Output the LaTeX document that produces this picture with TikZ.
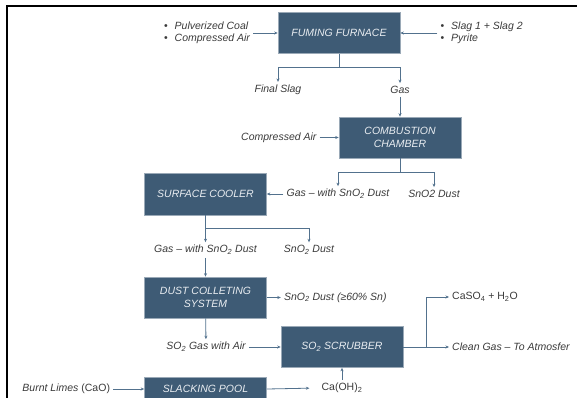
\documentclass[tikz,border=0pt]{standalone}
\usepackage{fontspec}
\setmainfont{Liberation Sans}
\usetikzlibrary{positioning,arrows.meta}
\definecolor{fumbox}{HTML}{3E5B75}
\definecolor{fumedge}{HTML}{9AA9B7}
\definecolor{fumline}{HTML}{52718D}
\definecolor{fumtext}{HTML}{3A3A3A}
\definecolor{fumcap}{HTML}{E9EDF1}
\newcommand{\fumbullet}{{\upshape\textbullet}\hspace{7pt}}

\begin{document}
\begin{tikzpicture}[x=1pt, y=-1pt,
  font=\fontsize{10.5}{12}\selectfont\itshape,
  unitbox/.style = {draw=fumedge, line width=0.6pt, fill=fumbox, text=fumcap, align=center,
                    minimum width=122pt, minimum height=41pt, inner sep=2pt,
                    font=\fontsize{10.5}{13}\selectfont\itshape},
  lbl/.style = {text=fumtext, inner sep=3pt, align=left},
  flow/.style = {-{Stealth[length=3.5pt, width=3pt]}, line width=0.8pt, draw=fumline},
  frame/.style = {line width=2.5pt, draw=black},
]
\useasboundingbox (0,0) rectangle (577,398);
\draw[frame] (577,6) -- (7,6) -- (7,398);

% ---------- fuming furnace ----------
\node[unitbox] (fum) at (339,33) {FUMING FURNACE};
\node[lbl, left=24.5pt of fum] (fumin) {\fumbullet Pulverized Coal\\ \fumbullet Compressed Air};
\node[lbl, right=37pt of fum] (fumout) {\fumbullet Slag 1 + Slag 2\\ \fumbullet Pyrite};
\node[lbl] (slag) at (278,90) {Final Slag};
\node[lbl] (gas1) at (400,90) {Gas};

% ---------- combustion chamber ----------
\node[unitbox] (comb) at (400,137.5) {COMBUSTION\\ CHAMBER};
\node[lbl, left=19pt of comb] (air) {Compressed Air};
\node[lbl] (gas2) at (338,194) {Gas -- with SnO\textsubscript{2} Dust};
\node[lbl] (sno2a) at (434,194) {SnO2 Dust};

% ---------- surface cooler ----------
\node[unitbox, minimum height=42pt] (cool) at (205.5,194) {SURFACE COOLER};
\node[lbl] (gas3) at (205.5,250) {Gas -- with SnO\textsubscript{2} Dust};
\node[lbl] (sno2b) at (309,250) {SnO\textsubscript{2} Dust};

% ---------- dust collecting ----------
\node[unitbox] (dust) at (205.5,297.5) {DUST COLLETING\\ SYSTEM};
\node[lbl, right=14pt of dust] (sno2c) {SnO\textsubscript{2} Dust (≥60\% Sn)};
\node[lbl] (so2gas) at (206,347) {SO\textsubscript{2} Gas with Air};

% ---------- scrubber ----------
\node[unitbox] (scrub) at (342,347) {SO\textsubscript{2} SCRUBBER};
\node[lbl, anchor=west] (caso) at (449,297) {\upshape CaSO\textsubscript{4} + H\textsubscript{2}O};
\node[lbl, anchor=west] (clean) at (449,347) {Clean Gas -- To Atmosfer};

% ---------- slacking pool ----------
\node[unitbox, minimum height=24pt] (pool) at (205.5,389) {SLACKING POOL};
\node[lbl, left=31pt of pool] (lime) {Burnt Limes {\upshape(CaO)}};
\node[lbl] (caoh) at (342,388) {\upshape Ca(OH)\textsubscript{2}};

% ---------- flows ----------
\draw[flow] (fumin.east) -- (fum.west);
\draw[flow] (fumout.west) -- (fum.east);
\draw[flow] (fum.south) -- ++(0,14) -| (slag.north);
\draw[flow] (fum.south) -- ++(0,14) -| (gas1.north);
\draw[flow] (gas1) -- (comb);

\draw[flow] (air.east) -- (comb.west);
\draw[flow] (comb.south) -- ++(0,14) -| (gas2.north);
\draw[flow] (comb.south) -- ++(0,14) -| (sno2a.north);
\draw[flow] (gas2.west) -- (cool.east);

\draw[flow] (cool.south) -- ++(0,13) -| (gas3.north);
\draw[flow] (cool.south) -- ++(0,13) -| (sno2b.north);
\draw[flow] (gas3) -- (dust);

\draw[flow] (dust.east) -- (sno2c.west);
\draw[flow] (dust) -- (so2gas);
\draw[flow] (so2gas.east) -- (scrub.west);

\draw[flow] (scrub.east) -- (clean.west);
\draw[flow] (scrub.east) -- ++(23,0) |- (caso.west);

\draw[flow] (lime.east) -- (pool.west);
\draw[flow, shorten >=9pt] (pool.east) -- (caoh.west);
\draw[flow] (caoh) -- (scrub);

\end{tikzpicture}
\end{document}
